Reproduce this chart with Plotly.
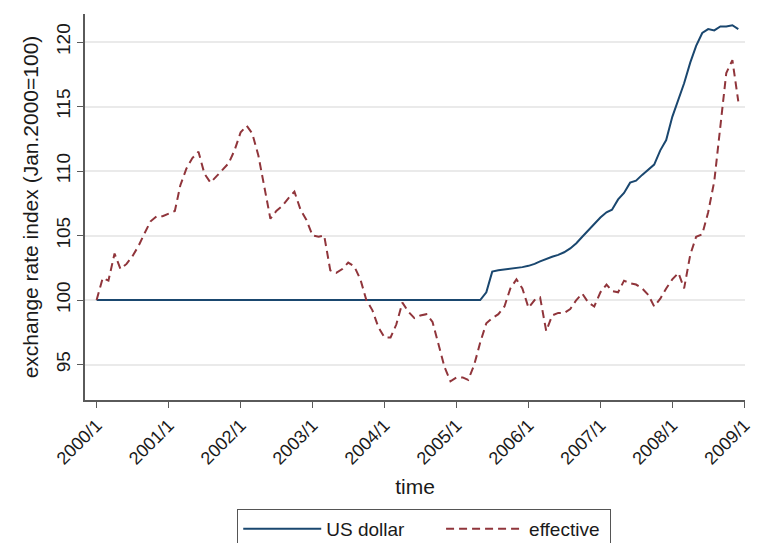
import pandas as pd
import plotly.graph_objects as go

# Monthly observations, 2000/1 - 2008/12
months = pd.date_range("2000-01-01", periods=108, freq="MS")

us_dollar = [
    100.0, 100.0, 100.0, 100.0, 100.0, 100.0, 99.98, 99.97, 99.96, 99.96,
    99.97, 99.98, 100.0, 100.0, 100.0, 100.0, 100.0, 100.0, 100.0, 100.0,
    100.0, 100.0, 100.0, 100.0, 100.0, 100.0, 100.0, 100.0, 100.0, 100.0,
    100.0, 100.0, 100.0, 100.0, 100.0, 100.0, 100.0, 100.0, 100.0, 100.0,
    100.0, 100.0, 100.0, 100.0, 100.0, 100.0, 100.0, 100.0, 100.0, 100.0,
    100.0, 100.0, 100.0, 100.0, 100.0, 100.0, 100.0, 100.0, 100.0, 100.0,
    100.0, 100.0, 100.0, 100.0, 100.0, 100.6, 102.2, 102.3, 102.35, 102.4,
    102.5, 102.55, 102.65, 102.8, 103.0, 103.2, 103.35, 103.5, 103.7, 104.0,
    104.4, 104.9, 105.4, 105.9, 106.4, 106.8, 107.0, 107.8, 108.3, 109.1,
    109.25, 109.7, 110.1, 110.5, 111.6, 112.4, 114.2, 115.6, 116.8, 118.4,
    119.7, 120.7, 121.0, 120.9, 121.2, 121.2, 121.3, 121.0,
]

effective = [
    100.0, 101.7, 101.5, 103.6, 102.4, 102.8, 103.4, 104.2, 105.2, 106.1,
    106.5, 106.5, 106.7, 106.9, 108.9, 110.2, 111.0, 111.5, 109.8, 109.1,
    109.6, 110.1, 110.6, 111.6, 113.0, 113.5, 112.9, 111.2, 108.9, 106.3,
    106.9, 107.3, 107.9, 108.4, 107.0, 106.2, 105.0, 104.9, 105.0, 102.3,
    102.1, 102.4, 102.9, 102.6, 101.6, 100.0, 99.2, 97.9, 97.1, 97.1,
    98.1, 99.8, 99.1, 98.6, 98.8, 98.9, 98.3, 96.6, 94.8, 93.7,
    94.0, 94.0, 93.8, 95.0, 96.7, 98.2, 98.6, 98.9, 99.5, 100.9,
    101.6, 100.9, 99.4, 100.0, 100.2, 97.6, 98.8, 99.0, 99.0, 99.3,
    100.0, 100.5, 99.8, 99.5, 100.6, 101.2, 100.7, 100.6, 101.5, 101.3,
    101.2, 100.9, 100.4, 99.5, 100.1, 100.9, 101.6, 102.1, 100.9, 103.5,
    104.9, 105.1, 106.8, 109.2, 113.5, 117.6, 118.6, 115.4,
]

tick_dates = pd.date_range("2000-01-01", "2009-01-01", freq="YS")
tick_labels = [f"{d.year}/1" for d in tick_dates]
y_ticks = [95, 100, 105, 110, 115, 120]

FONT = "Liberation Sans, Arial, sans-serif"
AXIS_COLOR = "#5a5a5a"
NBSP = "\u00a0"

fig = go.Figure()
fig.add_trace(go.Scatter(
    x=months, y=us_dollar, mode="lines", name="US dollar" + NBSP * 6,
    line=dict(color="#1a476f", width=2),
))
fig.add_trace(go.Scatter(
    x=months, y=effective, mode="lines", name="effective" + NBSP,
    line=dict(color="#90353b", width=2, dash="8px,5px"),
))

fig.update_layout(
    width=758, height=543,
    margin=dict(l=85, r=13, t=14, b=143, autoexpand=False),
    paper_bgcolor="white", plot_bgcolor="white",
    font=dict(family=FONT, color="#1a1a1a"),
    showlegend=True,
    legend=dict(
        orientation="h", x=0.514, xanchor="center", y=-0.282, yanchor="top",
        bordercolor="#555555", borderwidth=1,
        font=dict(size=19, family=FONT), itemwidth=78,
        traceorder="normal",
    ),
)

fig.update_xaxes(
    type="date", automargin=False,
    range=["1999-11-03", "2009-01-04"],
    tickvals=tick_dates, ticktext=tick_labels, tickangle=-45,
    ticklabeloverflow="allow",
    ticks="outside", ticklen=6, tickcolor=AXIS_COLOR,
    showline=True, linecolor=AXIS_COLOR, linewidth=1.5,
    showgrid=False, zeroline=False,
    tickfont=dict(size=18, family=FONT),
    title=dict(text="time", font=dict(size=21, family=FONT), standoff=12),
)
fig.update_yaxes(
    automargin=False,
    range=[92.25, 122.17],
    tickvals=y_ticks, tickangle=-90,
    ticks="outside", ticklen=6, tickcolor=AXIS_COLOR,
    showline=True, linecolor=AXIS_COLOR, linewidth=1.5,
    showgrid=True, gridcolor="#eaeaea", gridwidth=1.5, zeroline=False,
    tickfont=dict(size=19, family=FONT),
    title=dict(text="exchange rate index (Jan.2000=100)",
               font=dict(size=21, family=FONT), standoff=8),
)

fig.write_html("out.html")
